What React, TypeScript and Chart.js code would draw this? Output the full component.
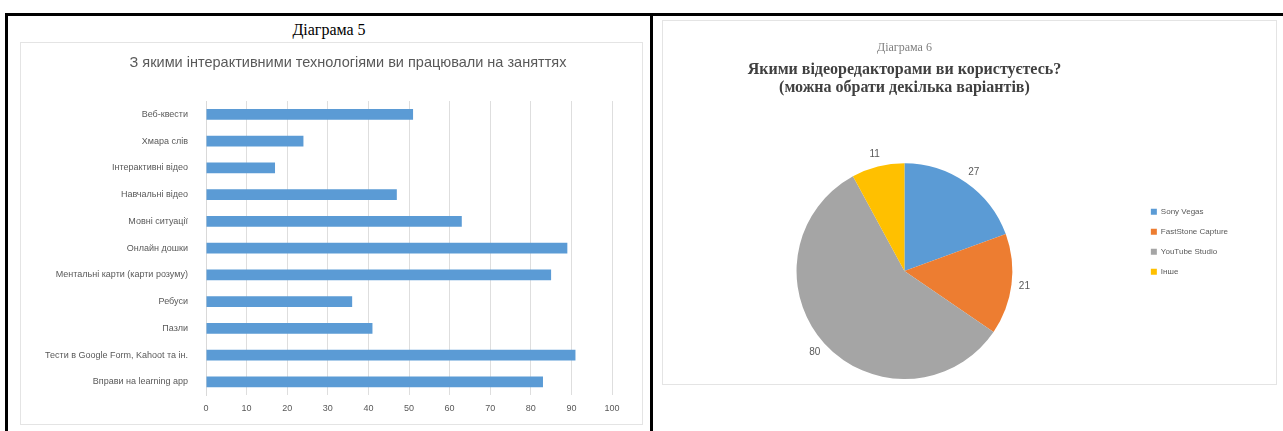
import React, { useEffect, useRef } from "react";
import { Chart, registerables } from "chart.js";

Chart.register(...registerables);

// ---- Діаграма 5 data ----
const barCaption = "Діаграма 5";
const barTitle = "З якими інтерактивними технологіями ви працювали на заняттях";
const barCategories = [
  "Веб-квести",
  "Хмара слів",
  "Інтерактивні відео",
  "Навчальні відео",
  "Мовні ситуації",
  "Онлайн дошки",
  "Ментальні карти (карти розуму)",
  "Ребуси",
  "Пазли",
  "Тести в Google Form, Kahoot та ін.",
  "Вправи на learning app",
];
const barValues = [51, 24, 17, 47, 63, 89, 85, 36, 41, 91, 83];
const barAxisMin = 0;
const barAxisMax = 100;
const barAxisStep = 10;

// ---- Діаграма 6 data ----
const pieCaption = "Діаграма 6";
const pieTitleLines = ["Якими відеоредакторами ви користуєтесь?", "(можна обрати декілька варіантів)"];
const pieLabels = ["Sony Vegas", "FastStone Capture", "YouTube Studio", "Інше"];
const pieValues = [27, 21, 80, 11];
const pieColors = ["#5B9BD5", "#ED7D31", "#A5A5A5", "#FFC000"];

const SANS = "'Liberation Sans', Arial, sans-serif";
const SERIF = "'Liberation Serif', 'Times New Roman', serif";

const pieValueLabels = {
  id: "pieValueLabels",
  afterDatasetsDraw(chart: any) {
    const meta = chart.getDatasetMeta(0);
    const ctx = chart.ctx;
    ctx.save();
    ctx.font = `10px ${SANS}`;
    ctx.fillStyle = "#595959";
    ctx.textAlign = "center";
    ctx.textBaseline = "middle";
    meta.data.forEach((arc: any, i: number) => {
      const p = arc.getProps(["x", "y", "startAngle", "endAngle", "outerRadius"], true);
      const mid = (p.startAngle + p.endAngle) / 2;
      const r = p.outerRadius + 13;
      ctx.fillText(String(chart.data.datasets[0].data[i]), p.x + Math.cos(mid) * r, p.y + Math.sin(mid) * r);
    });
    ctx.restore();
  },
};

function BarChart() {
  const ref = useRef<HTMLCanvasElement>(null);
  useEffect(() => {
    const chart = new Chart(ref.current!, {
      type: "bar",
      data: {
        labels: barCategories,
        datasets: [
          {
            data: barValues,
            backgroundColor: "#5B9BD5",
            borderWidth: 0,
            categoryPercentage: 0.4,
            barPercentage: 1,
          },
        ],
      },
      options: {
        indexAxis: "y",
        responsive: false,
        animation: false,
        layout: { padding: { left: 8, right: 30, top: 58, bottom: 2 } },
        plugins: {
          legend: { display: false },
          tooltip: { enabled: false },
          title: { display: false },
        },
        scales: {
          x: {
            min: barAxisMin,
            max: barAxisMax,
            ticks: { stepSize: barAxisStep, color: "#595959", font: { family: SANS, size: 9 }, padding: 8 },
            grid: { color: "#dedede", drawTicks: false },
            border: { display: false },
          },
          y: {
            ticks: { color: "#595959", font: { family: SANS, size: 9 }, padding: 10, autoSkip: false },
            grid: { display: false },
            border: { display: true, color: "#d9d9d9" },
            afterFit: (s: any) => {
              s.width = 177;
            },
          },
        },
      },
    });
    return () => chart.destroy();
  }, []);
  return <canvas ref={ref} width={621} height={381} style={{ display: "block" }} />;
}

function PieChart() {
  const ref = useRef<HTMLCanvasElement>(null);
  useEffect(() => {
    const chart = new Chart(ref.current!, {
      type: "pie",
      data: {
        labels: pieLabels,
        datasets: [{ data: pieValues, backgroundColor: pieColors, borderWidth: 0 }],
      },
      options: {
        responsive: false,
        animation: false,
        layout: { padding: { left: 7, right: 38, top: 0, bottom: 5 } },
        plugins: {
          tooltip: { enabled: false },
          title: {
            display: true,
            text: pieCaption,
            fullSize: false,
            color: "#7f7f7f",
            font: { family: SERIF, size: 12, weight: "normal" },
            padding: { top: 20, bottom: 4 },
          },
          subtitle: {
            display: true,
            text: pieTitleLines,
            fullSize: false,
            color: "#404040",
            font: { family: SERIF, size: 16, weight: "bold", lineHeight: 1.15 },
            padding: { top: 1, bottom: 66 },
          },
          legend: {
            position: "right",
            fullSize: true,
            title: { display: true, text: "", font: { size: 8 }, padding: { top: 74, bottom: 0 } },
            labels: {
              color: "#595959",
              font: { family: SANS, size: 8 },
              boxWidth: 6,
              boxHeight: 6,
              padding: 12,
            },
          },
        },
      },
      plugins: [pieValueLabels],
    });
    return () => chart.destroy();
  }, []);
  return <canvas ref={ref} width={613} height={363} style={{ display: "block" }} />;
}

export default function App() {
  const line = { position: "absolute" as const, background: "#000" };
  const box = {
    position: "absolute" as const,
    border: "1px solid #e4e4e4",
    background: "#fff",
  };
  return (
    <div style={{ position: "absolute", left: 0, top: 0, width: 1283, height: 431, background: "#fff", overflow: "hidden" }}>
      <div style={{ ...line, left: 5, top: 13, width: 1278, height: 3 }} />
      <div style={{ ...line, left: 5, top: 13, width: 3, height: 418 }} />
      <div style={{ ...line, left: 650, top: 13, width: 3, height: 418 }} />
      <div
        style={{
          position: "absolute",
          left: 8,
          width: 642,
          top: 21,
          textAlign: "center",
          fontFamily: SERIF,
          fontSize: 16,
          color: "#000",
          lineHeight: "18px",
        }}
      >
        {barCaption}
      </div>
      <div style={{ ...box, left: 20, top: 42, width: 621, height: 381 }}>
        <BarChart />
        <div
          style={{
            position: "absolute",
            left: 77,
            width: 500,
            top: 11,
            textAlign: "center",
            fontFamily: SANS,
            fontSize: 14.5,
            lineHeight: "17px",
            color: "#595959",
            whiteSpace: "nowrap",
          }}
        >
          {barTitle}
        </div>
      </div>
      <div style={{ ...box, left: 662, top: 20, width: 613, height: 363 }}>
        <PieChart />
      </div>
    </div>
  );
}
